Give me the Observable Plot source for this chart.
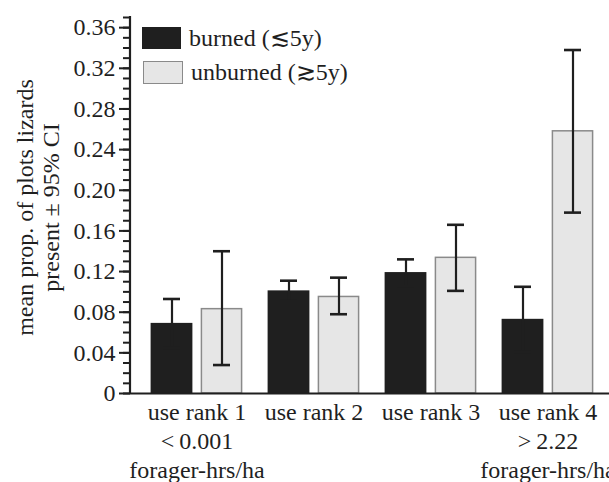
<!DOCTYPE html>
<html><head><meta charset="utf-8">
<script src="https://cdn.jsdelivr.net/npm/d3@7"></script>
<script src="https://cdn.jsdelivr.net/npm/@observablehq/plot@0.6"></script>
<style>
html,body{margin:0;padding:0;background:#fff;overflow:hidden;}
#wrap{position:relative;width:609px;height:482px;font-family:"Liberation Serif","DejaVu Serif",serif;color:#1f1f1f;}
#wrap svg text{font-family:"Liberation Serif","DejaVu Serif",serif;}
.leg{position:absolute;display:flex;align-items:center;font-size:24px;line-height:1;white-space:nowrap;}
.sw{display:inline-block;box-sizing:border-box;margin-right:8px;}
</style></head><body><div id="wrap"></div>
<script>
const groups = ["use rank 1\n<\u20090.001\nforager-hrs/ha", "use rank 2", "use rank 3", "use rank 4\n>\u20092.22\nforager-hrs/ha"];
const seriesNames = ["burned (\u22725y)", "unburned (\u22735y)"];
const burnedMean = [0.069, 0.101, 0.119, 0.073];
const burnedLower = [0.045, 0.091, 0.106, 0.041];
const burnedUpper = [0.093, 0.111, 0.132, 0.105];
const unburnedMean = [0.083, 0.095, 0.1335, 0.258];
const unburnedLower = [0.028, 0.078, 0.101, 0.178];
const unburnedUpper = [0.140, 0.114, 0.166, 0.338];
const yDomain = [0, 0.37];
const yMajorTicks = [0, 0.04, 0.08, 0.12, 0.16, 0.20, 0.24, 0.28, 0.32, 0.36];
const yMajorLabels = ["0", "0.04", "0.08", "0.12", "0.16", "0.20", "0.24", "0.28", "0.32", "0.36"];
const yMinorTicks = d3.range(0, 38).map(i => i / 100);
const yTitle = "mean prop. of plots lizards\npresent \u00b1 95% CI";

const burnedRows = groups.map((g, i) => ({group: g, mean: burnedMean[i], lo: burnedLower[i], hi: burnedUpper[i]}));
const unburnedRows = groups.map((g, i) => ({group: g, mean: unburnedMean[i], lo: unburnedLower[i], hi: unburnedUpper[i]}));

const serif = '"Liberation Serif", "DejaVu Serif", serif';
const ink = "#1f1f1f";
const blackFill = "#1f1f1f";
const grayFill = "#e6e6e6";
const grayStroke = "#8a8a8a";

const chart = Plot.plot({
  width: 609,
  height: 482,
  marginLeft: 130,
  marginRight: 0,
  marginTop: 17,
  marginBottom: 89,
  style: {fontFamily: serif, fontSize: "24px", color: ink, background: "white", overflow: "hidden"},
  x: {domain: groups, paddingInner: 0, paddingOuter: 0.042, align: 0.727, axis: null},
  y: {domain: yDomain, axis: null},
  marks: [
    Plot.barY(burnedRows, {x: "group", y: "mean", fill: blackFill, dx: -25, insetLeft: 37.6, insetRight: 37.6}),
    Plot.barY(unburnedRows, {x: "group", y: "mean", fill: grayFill, stroke: grayStroke, strokeWidth: 1.5, dx: 25, insetLeft: 38.4, insetRight: 38.4}),
    Plot.ruleX(burnedRows, {x: "group", y1: "lo", y2: "hi", dx: -25, stroke: ink, strokeWidth: 2.2}),
    Plot.tickY(burnedRows, {x: "group", y: "hi", dx: -25, insetLeft: 50, insetRight: 50, stroke: ink, strokeWidth: 2.6}),
    Plot.tickY(burnedRows, {x: "group", y: "lo", dx: -25, insetLeft: 50, insetRight: 50, stroke: ink, strokeWidth: 2.6}),
    Plot.ruleX(unburnedRows, {x: "group", y1: "lo", y2: "hi", dx: 25, stroke: ink, strokeWidth: 2.2}),
    Plot.tickY(unburnedRows, {x: "group", y: "hi", dx: 25, insetLeft: 50, insetRight: 50, stroke: ink, strokeWidth: 2.6}),
    Plot.tickY(unburnedRows, {x: "group", y: "lo", dx: 25, insetLeft: 50, insetRight: 50, stroke: ink, strokeWidth: 2.6}),
    Plot.ruleY([0], {stroke: ink, strokeWidth: 2}),
    (index, scales, values, dims) => {
      const ln = document.createElementNS("http://www.w3.org/2000/svg", "line");
      ln.setAttribute("x1", dims.marginLeft);
      ln.setAttribute("x2", dims.marginLeft);
      ln.setAttribute("y1", scales.y(yDomain[1]) - 1);
      ln.setAttribute("y2", scales.y(0) + 1);
      ln.setAttribute("stroke", ink);
      ln.setAttribute("stroke-width", 2.2);
      return ln;
    },
    Plot.axisY({ticks: yMinorTicks, tickSize: 7, tickFormat: () => "", stroke: ink, strokeWidth: 2, label: null}),
    Plot.axisY({ticks: yMajorTicks, tickSize: 11, tickPadding: 4, tickFormat: d => yMajorLabels[yMajorTicks.indexOf(d)], fontSize: 24, fontFamily: serif, fill: ink, stroke: ink, strokeWidth: 2, label: null}),
    Plot.axisX({tickSize: 0, tickPadding: 6, fontSize: 24, fontFamily: serif, lineHeight: 1.2, fill: ink, label: null}),
    Plot.text([yTitle], {frameAnchor: "left", rotate: -90, dx: -93, dy: 2, lineHeight: 1.1, fontSize: 24, fontFamily: serif, fill: ink, textAnchor: "middle"})
  ]
});

const wrap = document.getElementById("wrap");
wrap.appendChild(chart);

const legendItems = [
  {label: seriesNames[0], top: 26, left: 142, w: 39, h: 22, fill: blackFill, stroke: "none"},
  {label: seriesNames[1], top: 60, left: 143, w: 40, h: 23, fill: grayFill, stroke: grayStroke}
];
for (const it of legendItems) {
  const row = document.createElement("div");
  row.className = "leg";
  row.style.top = it.top + "px";
  row.style.left = it.left + "px";
  const sw = document.createElement("span");
  sw.className = "sw";
  sw.style.width = it.w + "px";
  sw.style.height = it.h + "px";
  sw.style.background = it.fill;
  sw.style.border = it.stroke === "none" ? "none" : "1.5px solid " + it.stroke;
  const tx = document.createElement("span");
  tx.textContent = it.label;
  row.appendChild(sw);
  row.appendChild(tx);
  wrap.appendChild(row);
}
</script>
</body></html>
